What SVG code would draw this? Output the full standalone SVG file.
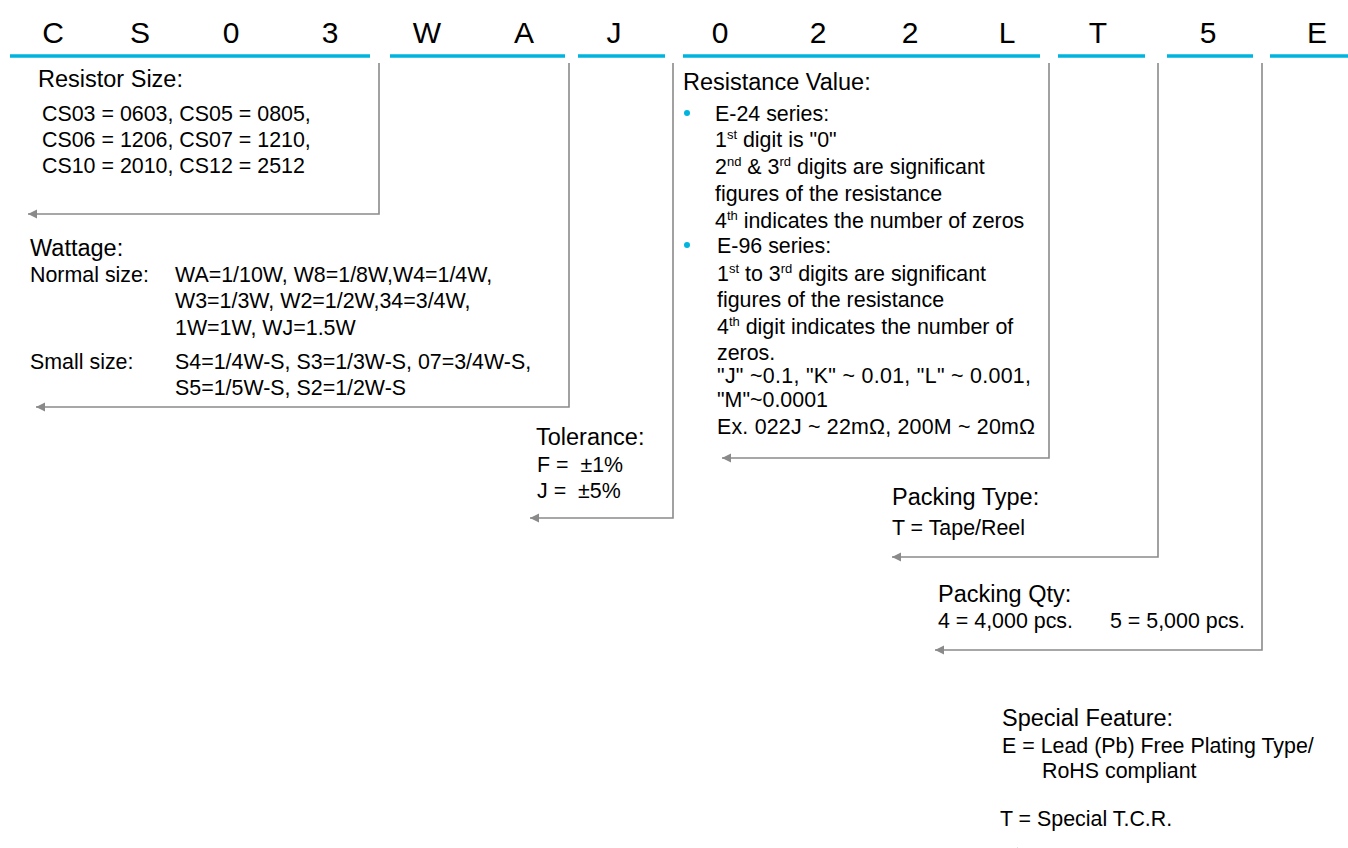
<svg xmlns="http://www.w3.org/2000/svg" width="1348" height="848" viewBox="0 0 1348 848">
<style>
text{font-family:"Liberation Sans",Arial,sans-serif;fill:#000}
.hd{font-size:30px;text-anchor:middle}
.h{font-size:23.5px}
.b{font-size:21.4px}
.s{font-size:13px}
.pre{white-space:pre}
.ul{stroke:#00b4e0;stroke-width:3.5;fill:none}
.cn{stroke:#8a8a8a;stroke-width:1.6;fill:none;marker-end:url(#ah)}
</style>
<defs>
<marker id="ah" markerUnits="userSpaceOnUse" markerWidth="10" markerHeight="10" refX="9" refY="4.5" orient="auto">
<path d="M0,0 L9,4.5 L0,9 z" fill="#8a8a8a"/>
</marker>
</defs>
<rect width="1348" height="848" fill="#fff"/>
<g id="header">
<text class="hd" x="53" y="43">C</text>
<text class="hd" x="140" y="43">S</text>
<text class="hd" x="231" y="43">0</text>
<text class="hd" x="330" y="43">3</text>
<text class="hd" x="427" y="43">W</text>
<text class="hd" x="524" y="43">A</text>
<text class="hd" x="614" y="43">J</text>
<text class="hd" x="720" y="43">0</text>
<text class="hd" x="818" y="43">2</text>
<text class="hd" x="910" y="43">2</text>
<text class="hd" x="1007" y="43">L</text>
<text class="hd" x="1098" y="43">T</text>
<text class="hd" x="1208" y="43">5</text>
<text class="hd" x="1317" y="43">E</text>
<line class="ul" x1="10" y1="56" x2="370" y2="56"/>
<line class="ul" x1="390" y1="56" x2="565" y2="56"/>
<line class="ul" x1="578" y1="56" x2="665" y2="56"/>
<line class="ul" x1="683" y1="56" x2="1040" y2="56"/>
<line class="ul" x1="1058" y1="56" x2="1145" y2="56"/>
<line class="ul" x1="1167" y1="56" x2="1253" y2="56"/>
<line class="ul" x1="1270" y1="56" x2="1348" y2="56"/>
</g>
<g id="connectors">
<path class="cn" d="M379,63 V214 H28"/>
<path class="cn" d="M569,63 V407 H36"/>
<path class="cn" d="M673,63 V518 H530"/>
<path class="cn" d="M1049,63 V458 H722"/>
<path class="cn" d="M1158,63 V557 H892"/>
<path class="cn" d="M1262,63 V650 H935"/>
<path class="cn" d="M1360,63 V852 H1009"/>
</g>
<g id="resistor-size">
<text class="h" x="38" y="87">Resistor Size:</text>
<text class="b" x="42" y="121">CS03 = 0603, CS05 = 0805,</text>
<text class="b" x="42" y="147">CS06 = 1206, CS07 = 1210,</text>
<text class="b" x="42" y="173">CS10 = 2010, CS12 = 2512</text>
</g>
<g id="wattage">
<text class="h" x="30" y="256">Wattage:</text>
<text class="b" x="30" y="282">Normal size:</text>
<text class="b" x="175" y="282">WA=1/10W, W8=1/8W,W4=1/4W,</text>
<text class="b" x="175" y="308">W3=1/3W, W2=1/2W,34=3/4W,</text>
<text class="b" x="175" y="335">1W=1W, WJ=1.5W</text>
<text class="b" x="30" y="369">Small size:</text>
<text class="b" x="175" y="369">S4=1/4W-S, S3=1/3W-S, 07=3/4W-S,</text>
<text class="b" x="175" y="395">S5=1/5W-S, S2=1/2W-S</text>
</g>
<g id="tolerance">
<text class="h" x="536" y="445">Tolerance:</text>
<text class="b pre" x="537" y="472">F =  ±1%</text>
<text class="b pre" x="537" y="498">J =  ±5%</text>
</g>
<g id="resistance-value">
<text class="h" x="683" y="90">Resistance Value:</text>
<circle cx="687" cy="113" r="3" fill="#00b4e0"/>
<text class="b" x="715" y="121">E-24 series:</text>
<text class="b" x="715" y="147">1<tspan class="s" dy="-8">st</tspan><tspan dy="8"> digit is "0"</tspan></text>
<text class="b" x="715" y="174">2<tspan class="s" dy="-8">nd</tspan><tspan dy="8"> &amp; 3</tspan><tspan class="s" dy="-8">rd</tspan><tspan dy="8"> digits are significant</tspan></text>
<text class="b" x="715" y="201">figures of the resistance</text>
<text class="b" x="715" y="228">4<tspan class="s" dy="-8">th</tspan><tspan dy="8"> indicates the number of zeros</tspan></text>
<circle cx="687" cy="245" r="3" fill="#00b4e0"/>
<text class="b" x="717" y="253">E-96 series:</text>
<text class="b" x="717" y="281">1<tspan class="s" dy="-8">st</tspan><tspan dy="8"> to 3</tspan><tspan class="s" dy="-8">rd</tspan><tspan dy="8"> digits are significant</tspan></text>
<text class="b" x="717" y="307">figures of the resistance</text>
<text class="b" x="717" y="334">4<tspan class="s" dy="-8">th</tspan><tspan dy="8"> digit indicates the number of</tspan></text>
<text class="b" x="717" y="360">zeros.</text>
<text class="b" x="717" y="383" textLength="314" lengthAdjust="spacing">"J" ~0.1, "K" ~ 0.01, "L" ~ 0.001,</text>
<text class="b" x="717" y="407">"M"~0.0001</text>
<text class="b" x="717" y="434" textLength="318" lengthAdjust="spacing">Ex. 022J ~ 22mΩ, 200M ~ 20mΩ</text>
</g>
<g id="packing-type">
<text class="h" x="892" y="505">Packing Type:</text>
<text class="b" x="892" y="535">T = Tape/Reel</text>
</g>
<g id="packing-qty">
<text class="h" x="938" y="602">Packing Qty:</text>
<text class="b" x="938" y="628">4 = 4,000 pcs.</text>
<text class="b" x="1110" y="628">5 = 5,000 pcs.</text>
</g>
<g id="special-feature">
<text class="h" x="1002" y="726">Special Feature:</text>
<text class="b" x="1002" y="753">E = Lead (Pb) Free Plating Type/</text>
<text class="b" x="1042" y="778">RoHS compliant</text>
<text class="b" x="1000" y="826">T = Special T.C.R.</text>
</g>
</svg>
